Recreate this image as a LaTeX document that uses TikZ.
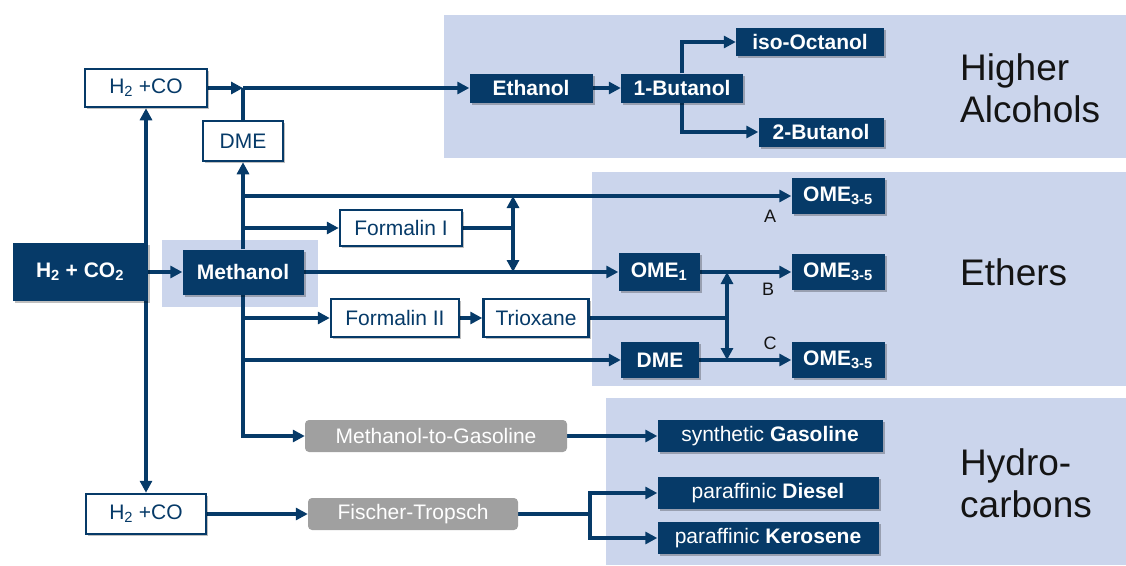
\documentclass[tikz,border=0pt]{standalone}
\usepackage{fontspec}
\setmainfont{Liberation Sans}
\usetikzlibrary{arrows.meta,shadows}
\definecolor{dblue}{RGB}{6,58,104}
\definecolor{panel}{RGB}{203,213,236}
\definecolor{gbox}{RGB}{160,160,160}
\definecolor{ink}{RGB}{20,20,20}
\pgfdeclarelayer{back}
\pgfdeclarelayer{mid}
\pgfsetlayers{back,mid,main}
\begin{document}
\begin{tikzpicture}[x=1pt,y=-1pt,
  ln/.style={draw=dblue, line width=3.2pt},
  arr/.style={ln, -{Triangle[length=12pt,width=12pt]}},
  dbl/.style={ln, {Triangle[length=12pt,width=12pt]}-{Triangle[length=12pt,width=12pt]}},
  shad/.style={drop shadow={shadow xshift=2pt,shadow yshift=-2pt,opacity=0.25,fill=black}},
  dark/.style={shad, fill=dblue, text=white, inner sep=0pt, font=\bfseries\fontsize{21}{24}\selectfont},
  wbox/.style={shad, draw=dblue, line width=2.5pt, fill=white, text=dblue, inner sep=0pt, font=\fontsize{21}{24}\selectfont},
  gbx/.style={fill=gbox, rounded corners=4pt, text=white, inner sep=0pt, font=\fontsize{21}{24}\selectfont},
  big/.style={anchor=west, align=left, text=ink, inner sep=0pt, font=\fontsize{37}{42}\selectfont},
  lbl/.style={text=ink, inner sep=0pt, font=\fontsize{18}{20}\selectfont},
]
\useasboundingbox (0,0) rectangle (1126,565);

% nodes
\node[wbox, minimum width=122, minimum height=38] (hcoT) at (146,88) {H\textsubscript{2} +CO};
\node[wbox, minimum width=80, minimum height=40] (dmeT) at (243,141) {DME};
\node[dark, minimum width=135, minimum height=58] (h2co2) at (80,272) {H\textsubscript{2} + CO\textsubscript{2}};
\node[dark, minimum width=121, minimum height=45] (meth) at (243,272) {Methanol};

\node[dark, minimum width=123, minimum height=29] (eth) at (531,88) {Ethanol};
\node[dark, minimum width=122, minimum height=29] (but1) at (682,88) {1-Butanol};
\node[dark, minimum width=148, minimum height=28] (iso) at (810,42) {iso-Octanol};
\node[dark, minimum width=125, minimum height=29] (but2) at (821,132) {2-Butanol};

\node[dark, minimum width=93, minimum height=36] (omeA) at (838,196) {OME\textsubscript{3-5}};
\node[wbox, minimum width=122, minimum height=36] (form1) at (401,228) {Formalin I};
\node[dark, minimum width=81, minimum height=38] (ome1) at (659,272) {OME\textsubscript{1}};
\node[dark, minimum width=93, minimum height=36] (omeB) at (838,272) {OME\textsubscript{3-5}};
\node[wbox, minimum width=128, minimum height=38] (form2) at (395,318) {Formalin II};
\node[wbox, minimum width=105, minimum height=38] (triox) at (536,318) {Trioxane};
\node[dark, minimum width=78, minimum height=36] (dmeM) at (660,360) {DME};
\node[dark, minimum width=93, minimum height=36] (omeC) at (838,360) {OME\textsubscript{3-5}};

\node[gbx, minimum width=262, minimum height=32] (mtg) at (436,436) {Methanol-to-Gasoline};
\node[dark, minimum width=225, minimum height=32, font=\fontsize{21}{24}\selectfont] (gas) at (770,436) {synthetic \textbf{Gasoline}};
\node[wbox, minimum width=120, minimum height=40] (hcoB) at (146,514) {H\textsubscript{2} +CO};
\node[gbx, minimum width=210, minimum height=32] (ft) at (413,514) {Fischer-Tropsch};
\node[dark, minimum width=221, minimum height=32, font=\fontsize{21}{24}\selectfont] (dies) at (768,493) {paraffinic \textbf{Diesel}};
\node[dark, minimum width=221, minimum height=32, font=\fontsize{21}{24}\selectfont] (ker) at (768,538) {paraffinic \textbf{Kerosene}};

\node[big] (tHA) at (960,88) {Higher\\Alcohols};
\node[big] (tE) at (960,272) {Ethers};
\node[big] (tHC) at (960,483) {Hydro-\\carbons};

\node[lbl] (lA) at (770,216) {A};
\node[lbl] (lB) at (768,289) {B};
\node[lbl] (lC) at (770,343) {C};

% panels
\begin{pgfonlayer}{back}
\fill[panel] (444,15) rectangle (1126,158);
\fill[panel] (592,172) rectangle (1126,386);
\fill[panel] (606,398) rectangle (1126,565);
\fill[panel] (162,240) rectangle (318,307);
\end{pgfonlayer}

% connectors
\begin{pgfonlayer}{mid}
\coordinate (j1) at (243,88);
\coordinate (k1) at (513,228);
\coordinate (k2) at (727,318);
\coordinate (k3) at (590,514);

\draw[dbl] (hcoT.south) -- (hcoB.north);
\draw[arr] (h2co2.east) -- (meth.west);
\draw[arr] (hcoT.east) -- (j1);
\draw[ln] (dmeT.north) -- (j1);
\draw[arr] (j1) -- (eth.west);
\draw[arr] (meth.north) -- (dmeT.south);
\draw[arr] (meth.north |- omeA) -- (omeA.west);
\draw[arr] (meth.north |- form1) -- (form1.west);
\draw[arr] (meth.east) -- (ome1.west);
\draw[arr] (meth.south) |- (mtg.west);
\draw[arr] (meth.south |- form2) -- (form2.west);
\draw[arr] (meth.south |- dmeM) -- (dmeM.west);

\draw[ln] (form1.east) -- (k1);
\draw[dbl] (k1 |- omeA) -- (k1 |- ome1);
\draw[arr] (form2.east) -- (triox.west);
\draw[ln] (triox.east) -- (k2);
\draw[dbl] (k2 |- ome1) -- (k2 |- dmeM);
\draw[arr] (ome1.east) -- (omeB.west);
\draw[arr] (dmeM.east) -- (omeC.west);

\draw[arr] (eth.east) -- (but1.west);
\draw[arr] (but1.north) |- (iso.west);
\draw[arr] (but1.south) |- (but2.west);

\draw[arr] (mtg.east) -- (gas.west);
\draw[arr] (hcoB.east) -- (ft.west);
\draw[ln] (ft.east) -- (k3);
\draw[arr] (k3) |- (dies.west);
\draw[arr] (k3) |- (ker.west);
\end{pgfonlayer}
\end{tikzpicture}
\end{document}
